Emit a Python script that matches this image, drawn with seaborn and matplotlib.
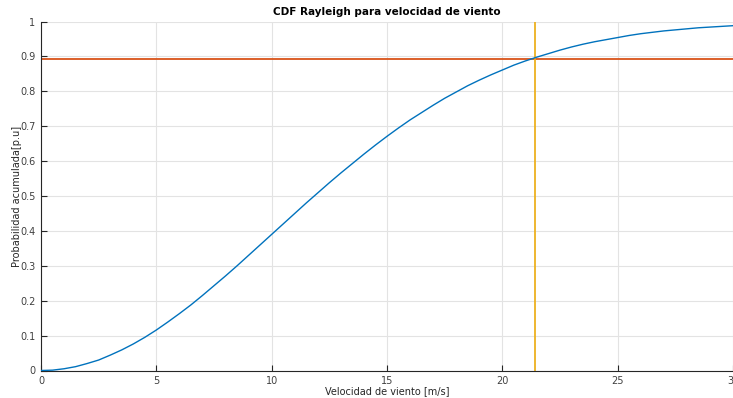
import matplotlib
matplotlib.use("Agg")
import matplotlib.pyplot as plt
import seaborn as sns
import pandas as pd

# Values
wind_speed = [0, 0.5, 1, 1.5, 2, 2.5, 3, 3.5, 4, 4.5, 5, 5.5, 6, 6.5, 7, 7.5, 8, 8.5, 9, 9.5,
              10, 10.5, 11, 11.5, 12, 12.5, 13, 13.5, 14, 14.5, 15, 15.5, 16, 16.5, 17, 17.5,
              18, 18.5, 19, 19.5, 20, 20.5, 21, 21.5, 22, 22.5, 23, 23.5, 24, 24.5, 25, 25.5,
              26, 26.5, 27, 27.5, 28, 28.5, 29, 29.5, 30]
cdf_value = [0.0, 0.001, 0.005, 0.011, 0.020, 0.030, 0.044, 0.059, 0.076, 0.095, 0.116, 0.139,
             0.163, 0.188, 0.215, 0.243, 0.271, 0.300, 0.330, 0.360, 0.390, 0.420, 0.450, 0.480,
             0.509, 0.538, 0.566, 0.593, 0.620, 0.646, 0.671, 0.695, 0.718, 0.739, 0.760, 0.780,
             0.798, 0.816, 0.832, 0.847, 0.861, 0.875, 0.887, 0.898, 0.908, 0.918, 0.927, 0.935,
             0.942, 0.948, 0.954, 0.960, 0.965, 0.969, 0.973, 0.976, 0.979, 0.982, 0.984, 0.986,
             0.988]
v_marker = 21.4
p_marker = 0.893
x_ticks = [0, 5, 10, 15, 20, 25, 30]
y_ticks = [0, 0.1, 0.2, 0.3, 0.4, 0.5, 0.6, 0.7, 0.8, 0.9, 1]
y_tick_labels = ["0", "0.1", "0.2", "0.3", "0.4", "0.5", "0.6", "0.7", "0.8", "0.9", "1"]

sns.set_style("white")
plt.rcParams['font.family'] = ['DejaVu Sans']

fig = plt.figure(figsize=(7.33, 3.98), dpi=100)
ax = fig.add_axes([41 / 733, 27.5 / 398, 692 / 733, 349 / 398])

df = pd.DataFrame({"v": wind_speed, "F": cdf_value})
sns.lineplot(data=df, x="v", y="F", ax=ax, color="#0072BD", linewidth=1.0, zorder=3)
ax.axhline(p_marker, color="#D95319", linewidth=1.3, zorder=2)
ax.axvline(v_marker, color="#EDB120", linewidth=1.3, zorder=2)

ax.set_xlim(0, 30)
ax.set_ylim(0, 1)
ax.set_xticks(x_ticks)
ax.set_yticks(y_ticks)
ax.set_yticklabels(y_tick_labels)
ax.grid(True, color="#e3e3e3", linewidth=0.8, zorder=0)
ax.set_axisbelow(True)
for s in ["top", "right"]:
    ax.spines[s].set_visible(False)
for s in ["left", "bottom"]:
    ax.spines[s].set_color("#262626")
    ax.spines[s].set_linewidth(0.8)
ax.tick_params(direction="in", length=4, width=0.8, colors="#262626",
               labelsize=7, labelcolor="#404040", pad=4, left=True, bottom=True)

ax.set_title("CDF Rayleigh para velocidad de viento", fontsize=7.5, fontweight="bold",
             color="#000000", pad=5)
ax.set_xlabel("Velocidad de viento [m/s]", fontsize=7, color="#262626", labelpad=0)
ax.set_ylabel("Probabilidad acumulada[p.u]", fontsize=7, color="#262626")
ax.yaxis.set_label_coords(-0.028, 0.5)

fig.savefig("out.png", dpi=100)
